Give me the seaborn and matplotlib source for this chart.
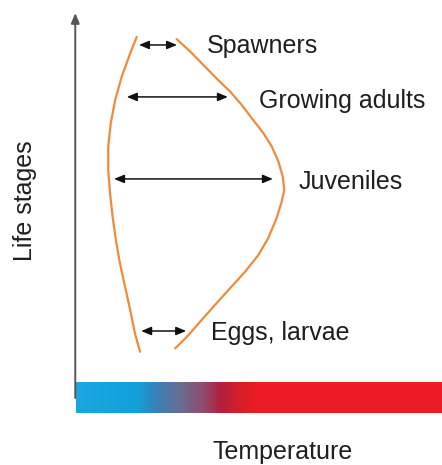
import numpy as np
import seaborn as sns
import matplotlib.pyplot as plt
from matplotlib.colors import LinearSegmentedColormap

sns.set_style('white')
plt.rcParams['font.family'] = ['Liberation Sans', 'DejaVu Sans']

## thermal tolerance window (temperature 0-100, life stage 0-100)
cold_temp = [16.6, 14.8, 12.5, 10.7, 9.5, 8.8, 8.8, 9.3, 10.0, 10.9, 12.0, 13.4, 14.8, 16.1, 17.5]
cold_stage = [93.8, 89.5, 83.5, 77.4, 71.4, 65.3, 59.2, 53.2, 47.1, 41.0, 35.0, 28.9, 22.9, 16.8, 12.0]
warm_temp = [27.5, 31.2, 34.8, 38.4, 42.1, 45.3, 48.4, 51.2, 53.5, 55.3, 56.5, 56.9,
             56.2, 54.8, 52.5, 49.8, 46.2, 42.1, 38.0, 33.9, 30.3, 27.1]
warm_stage = [93.2, 90.0, 86.5, 83.0, 79.6, 76.1, 72.2, 68.8, 65.3, 61.4, 57.5, 54.0,
              51.0, 46.7, 41.5, 37.1, 32.8, 28.5, 24.2, 19.8, 15.9, 12.9]

## width of the window for each stage
stages = ['Spawners', 'Growing adults', 'Juveniles', 'Eggs, larvae']
stage_y = [91.7, 78.2, 56.9, 17.4]
range_lo = [17.2, 13.9, 10.4, 17.8]
range_hi = [27.6, 41.5, 53.8, 30.1]
label_x = [35.7, 50.0, 60.7, 36.9]
label_y = [91.3, 77.2, 56.1, 16.9]

fig = plt.figure(figsize=(4.42, 4.65), dpi=100)
ax = fig.add_axes([76/442, 1-413/465, 366/442, 400/465])
ax.set_xlim(0, 100)
ax.set_ylim(-3.9, 100)
ax.axis('off')

orange = '#f28a3a'
sns.lineplot(x=cold_temp, y=cold_stage, sort=False, estimator=None, color=orange, lw=1.6, ax=ax)
sns.lineplot(x=warm_temp, y=warm_stage, sort=False, estimator=None, color=orange, lw=1.6, ax=ax)

for lo, hi, y in zip(range_lo, range_hi, stage_y):
    ax.annotate('', xy=(hi, y), xytext=(lo, y),
                arrowprops=dict(arrowstyle='<|-|>,head_length=0.6,head_width=0.25',
                                color='#111111', lw=1.1, shrinkA=0, shrinkB=0))

for name, x, y in zip(stages, label_x, label_y):
    ax.text(x, y, name, fontsize=18, color='#1e1e1e', ha='left', va='center')

## temperature colour bar
cmap = LinearSegmentedColormap.from_list('temp', [
    (0.0, '#1ba7df'), (0.167, '#139fd9'), (0.221, '#3a80b8'), (0.284, '#6a6d92'),
    (0.347, '#8f4d6e'), (0.393, '#b2203f'), (0.44, '#d21f2b'), (0.495, '#ec1c24'), (1.0, '#ec1c24')])
ax.imshow(np.linspace(0, 1, 256)[None, :], cmap=cmap, aspect='auto',
          extent=(0, 100, -3.9, 3.9), zorder=1)

## y axis with arrow
ax.annotate('', xy=(-0.2, 100), xytext=(-0.2, 0), annotation_clip=False,
            arrowprops=dict(arrowstyle='-|>,head_length=0.6,head_width=0.25',
                            color='#555555', lw=1.4, shrinkA=0, shrinkB=0), zorder=3)

fig.text(283/442, 1-452/465, 'Temperature', fontsize=18, color='#1e1e1e', ha='center', va='center')
fig.text(25/442, 1-201/465, 'Life stages', fontsize=18, color='#1e1e1e', ha='center', va='center', rotation=90)

plt.savefig('out.png', dpi=100)
